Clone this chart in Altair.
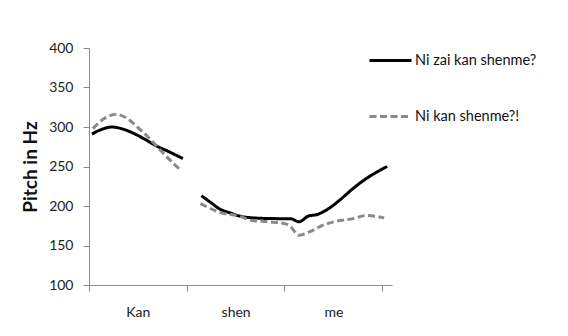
import altair as alt
import pandas as pd

# Syllable categories on the x axis (each occupies one unit)
syllables = ["Kan", "shen", "me"]

series_names = ["Ni zai kan shenme?", "Ni kan shenme?!"]

# Series 1: "Ni zai kan shenme?" (solid black)
s1_seg1_t = [0.03, 0.13, 0.235, 0.33, 0.42, 0.55, 0.69, 0.83, 0.96]
s1_seg1_hz = [291, 297, 300, 298, 294, 286, 276, 268, 260]
s1_seg2_t = [1.15, 1.25, 1.34, 1.45, 1.55, 1.75, 1.95, 2.06, 2.15, 2.24, 2.34, 2.43, 2.57, 2.70, 2.84, 2.96, 3.05]
s1_seg2_hz = [213, 204, 196, 191, 187, 184.5, 184, 184, 180, 187, 189.5, 195, 208, 222, 235, 244, 250]

# Series 2: "Ni kan shenme?!" (dashed gray)
s2_seg1_t = [0.04, 0.16, 0.28, 0.40, 0.52, 0.60, 0.69, 0.83, 0.93]
s2_seg1_hz = [298, 311, 316, 310, 297, 288, 276, 258, 246]
s2_seg2_t = [1.14, 1.34, 1.55, 1.65, 1.85, 2.02, 2.06, 2.15, 2.26, 2.40, 2.54, 2.70, 2.84, 3.02]
s2_seg2_hz = [203, 192, 186.5, 182, 180, 177, 174, 163, 167.5, 176, 181, 184, 188, 185]

y_ticks = [100, 150, 200, 250, 300, 350, 400]
x_ticks = [0, 0.5, 1, 1.5, 2, 2.5, 3]

rows = []
for name, seg, ts, hs in [
    (series_names[0], "a", s1_seg1_t, s1_seg1_hz),
    (series_names[0], "b", s1_seg2_t, s1_seg2_hz),
    (series_names[1], "a", s2_seg1_t, s2_seg1_hz),
    (series_names[1], "b", s2_seg2_t, s2_seg2_hz),
]:
    for t, h in zip(ts, hs):
        rows.append({"series": name, "seg": name + seg, "t": t, "hz": h})
df = pd.DataFrame(rows)

label_expr = " : ".join(
    f"datum.value == {i + 0.5} ? '{s}'" for i, s in enumerate(syllables)
) + " : ''"

FONT = "Lato"
AXIS_GRAY = "#8c8c8c"

legend_cfg = dict(orient="none", legendX=279, legendY=-10,
                  title=None, symbolType="stroke",
                  symbolSize=1764, symbolStrokeWidth=3,
                  labelFontSize=14.5, labelColor="#111", labelFont=FONT,
                  labelOffset=2, rowPadding=27)

lines = alt.Chart(df).mark_line(interpolate="monotone", strokeWidth=3).encode(
    x=alt.X("t:Q",
            scale=alt.Scale(domain=[0, 3.1], nice=False, zero=False),
            axis=alt.Axis(values=x_ticks, labelExpr=label_expr, grid=False,
                          title=None, tickSize=6, labelPadding=14,
                          labelFontSize=14, labelColor="#222", labelFont=FONT,
                          tickOpacity={"condition": {"test": "datum.value % 1 === 0", "value": 1}, "value": 0},
                          domainColor=AXIS_GRAY, tickColor=AXIS_GRAY)),
    y=alt.Y("hz:Q",
            scale=alt.Scale(domain=[100, 400], nice=False, zero=False),
            axis=alt.Axis(values=y_ticks, grid=False, title="Pitch in Hz",
                          titleFontSize=19, titleFontWeight="bold", titleColor="#111",
                          titleFont=FONT,
                          titlePadding=8, tickSize=6, labelPadding=10,
                          labelFontSize=14, labelColor="#222", labelFont=FONT,
                          domainColor=AXIS_GRAY, tickColor=AXIS_GRAY)),
    color=alt.Color("series:N",
                    scale=alt.Scale(domain=series_names, range=["#000000", "#8a8a8a"]),
                    legend=alt.Legend(**legend_cfg)),
    strokeDash=alt.StrokeDash("series:N",
                              scale=alt.Scale(domain=series_names, range=[[1, 0], [7, 3.5]]),
                              legend=alt.Legend(**legend_cfg)),
    detail="seg:N",
)

chart = lines.properties(
    width=303, height=237,
    padding={"left": 81, "top": 40, "right": 168, "bottom": 43},
    autosize=alt.AutoSizeParams(type="none"),
).configure_view(stroke=None)

chart.save("out.html", embed_options={"renderer": "svg", "actions": False})
